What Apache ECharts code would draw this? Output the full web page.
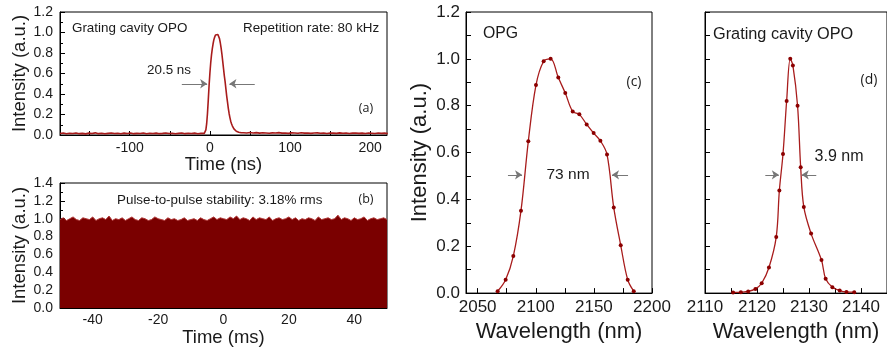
<!DOCTYPE html>
<html>
<head>
<meta charset="utf-8">
<script src="https://cdn.jsdelivr.net/npm/echarts@6/dist/echarts.min.js"></script>
<style>
html,body{margin:0;padding:0;background:#fff;}
#chart{width:887px;height:348px;}
</style>
</head>
<body>
<div id="chart"></div>
<script>
// ---------- Panel (a): single pulse ----------
const aTime = [-187,-183,-179,-175,-171,-167,-163,-159,-155,-151,-147,-143,-139,-135,-131,-127,-123,-119,-115,-111,-107,-103,-99,-95,-91,-87,-83,-79,-75,-71,-67,-63,-59,-55,-51,-47,-43,-39,-35,-31,-27,-23,-19,-15,-11,
 -7,-6,-5,-4,-3,-2,-1,0,1,2,3,4,5,6,7,8,9,10,11,12,13,14,15,16,17,18,19,20,21,22,23,24,25,26,27,28,29,30,31,32,33,34,35,36,37,38,39,40,
 42,46,50,54,58,62,66,70,74,78,82,86,90,94,98,102,106,110,114,118,122,126,130,134,138,142,146,150,154,158,162,166,170,174,178,182,186,190,194,198,202,206,210,214,218,222];
const aIntensity = [0.015,0.019,0.012,0.017,0.014,0.020,0.013,0.016,0.011,0.018,0.015,0.021,0.013,0.017,0.012,0.016,0.019,0.014,0.017,0.012,0.018,0.015,0.020,0.013,0.016,0.014,0.019,0.012,0.017,0.015,0.018,0.013,0.016,0.020,0.014,0.017,0.012,0.016,0.019,0.013,0.017,0.015,0.018,0.012,0.016,
 0.016,0.020,0.050,0.110,0.210,0.340,0.480,0.600,0.700,0.780,0.840,0.890,0.930,0.955,0.975,0.985,0.990,0.980,0.965,0.940,0.900,0.850,0.790,0.720,0.650,0.580,0.520,0.450,0.380,0.320,0.260,0.210,0.170,0.135,0.110,0.090,0.072,0.060,0.050,0.042,0.036,0.031,0.028,0.026,0.024,0.023,0.022,0.021,
 0.022,0.019,0.024,0.020,0.023,0.018,0.022,0.020,0.017,0.021,0.019,0.023,0.018,0.020,0.016,0.021,0.019,0.017,0.022,0.018,0.020,0.016,0.019,0.021,0.017,0.019,0.015,0.020,0.018,0.016,0.021,0.017,0.019,0.015,0.018,0.020,0.016,0.018,0.014,0.019,0.017,0.015,0.019,0.016,0.018,0.015];
const aXLabels = [-100, 0, 100, 200];
const aXTicks = [-150, -100, -50, 0, 50, 100, 150, 200];
const aFwhmArrows = [[-35, -3.4], [56, 24.4]]; // [tail, head] at half max
const aHalf = 0.5;

// ---------- Panel (b): pulse train ----------
const bTime = [-50,-49,-48,-47,-46,-45,-44,-43,-42,-41,-40,-39,-38,-37,-36,-35,-34,-33,-32,-31,-30,-29,-28,-27,-26,-25,-24,-23,-22,-21,-20,-19,-18,-17,-16,-15,-14,-13,-12,-11,-10,-9,-8,-7,-6,-5,-4,-3,-2,-1,0,1,2,3,4,5,6,7,8,9,10,11,12,13,14,15,16,17,18,19,20,21,22,23,24,25,26,27,28,29,30,31,32,33,34,35,36,37,38,39,40,41,42,43,44,45,46,47,48,49,50];
const bIntensity = [0.99,1.01,0.98,1.00,1.02,0.99,0.98,1.01,1.00,0.99,
 1.02,0.98,1.00,1.01,0.99,1.03,0.98,1.00,0.99,1.01,
 0.98,1.00,1.02,0.99,0.98,1.01,1.00,0.98,0.99,1.02,
 1.00,0.99,0.98,1.01,0.99,1.00,0.98,0.99,1.01,0.98,
 0.99,1.00,0.98,1.01,0.99,0.98,1.00,1.02,0.99,1.01,
 1.00,0.99,1.02,1.00,1.03,0.99,1.01,1.00,0.98,1.02,
 0.99,1.01,1.00,0.99,1.02,0.98,1.00,1.01,0.99,1.00,
 1.02,0.99,1.01,0.98,1.00,0.99,1.01,1.00,0.98,1.02,
 0.99,1.00,1.01,0.99,1.00,1.04,0.99,1.01,1.00,0.98,
 1.01,0.99,1.00,1.02,0.98,1.00,1.01,0.99,1.00,1.01,
 0.99];
const bXLabels = [-40, -20, 0, 20, 40];
const bXTicks = [-40, -30, -20, -10, 0, 10, 20, 30, 40];

// ---------- Panel (c): OPG spectrum ----------
const cWavelength = [2067.2,2074.1,2080.7,2087.3,2093.6,2100.2,2106.8,2112.8,2119.4,2125.4,2131.8,2137.5,2143.8,2149.8,2155.6,2161.3,2167.1,2173.1,2179.1,2184.3];
const cIntensity = [0.008,0.057,0.158,0.352,0.648,0.888,0.990,1.000,0.920,0.854,0.775,0.763,0.720,0.683,0.650,0.592,0.365,0.204,0.057,0.008];
const cXLabels = [2050, 2100, 2150, 2200];
const cXTicks = [2050, 2075, 2100, 2125, 2150, 2175, 2200];
const cFwhmArrows = [[2076.1, 2088.2], [2179.4, 2165.6]];
const cHalf = 0.505;

// ---------- Panel (d): grating cavity OPO spectrum ----------
const dWavelength = [2115.4,2116.9,2118.3,2119.7,2120.9,2122.3,2123.7,2124.3,2125.0,2125.7,2126.4,2126.9,2127.8,2128.4,2129.0,2130.4,2132.4,2133.2,2134.5,2135.9,2137.2,2138.7];
const dIntensity = [0.003,0.004,0.007,0.018,0.042,0.109,0.240,0.438,0.594,0.820,1.000,0.972,0.800,0.537,0.368,0.254,0.141,0.061,0.025,0.011,0.005,0.004];
const dXLabels = [2110, 2120, 2130, 2140];
const dXTicks = [2110, 2115, 2120, 2125, 2130, 2135, 2140, 2145];
const dFwhmArrows = [[2121.6, 2124.2], [2131.4, 2128.6]];
const dHalf = 0.505;

const FONT = '"Liberation Sans", Arial, Helvetica, sans-serif';
const LINE = '#a81c1c';
const DOT = '#8b0000';
const FILL = '#7a0000';
const TXT = '#1a1a1a';

const zip = (xs, ys) => xs.map((x, i) => [x, ys[i]]);
const arrows = (pairs, y) => pairs.map(p => [{coord: [p[0], y]}, {coord: [p[1], y]}]);
const plain = v => String(v);

function fwhmMark(pairs, y) {
  return {
    silent: true, animation: false,
    symbol: ['none', 'arrow'], symbolSize: 7,
    lineStyle: {color: '#777', width: 1, type: 'solid'},
    itemStyle: {color: '#222'},
    label: {show: false},
    emphasis: {disabled: true},
    data: arrows(pairs, y)
  };
}

function frameAxis(extra) {
  return Object.assign({
    type: 'value',
    axisLine: {show: true, onZero: false, lineStyle: {color: '#000', width: 1}},
    splitLine: {show: false},
  }, extra);
}

const chart = echarts.init(document.getElementById('chart'), null, {renderer: 'canvas'});

const option = {
  animation: false,
  backgroundColor: '#fff',
  grid: [
    {left: 60, top: 12, width: 327, height: 123, show: true, borderColor: '#000', borderWidth: 1, backgroundColor: 'transparent'},
    {left: 60, top: 183, width: 327, height: 125, show: true, borderColor: '#000', borderWidth: 1, backgroundColor: 'transparent'},
    {left: 466, top: 12, width: 186, height: 283, show: true, borderColor: '#000', borderWidth: 1, backgroundColor: 'transparent'},
    {left: 705, top: 12, width: 187, height: 283, show: true, borderColor: '#000', borderWidth: 1, backgroundColor: 'transparent'}
  ],
  xAxis: [
    frameAxis({gridIndex: 0, min: -187, max: 221,
      axisTick: {show: true, inside: true, length: 4, customValues: aXTicks, lineStyle: {color: '#000'}},
      axisLabel: {customValues: aXLabels, formatter: plain, margin: 6, fontSize: 14, fontFamily: FONT, color: TXT},
      name: 'Time (ns)', nameLocation: 'middle', nameGap: 19,
      nameTextStyle: {fontSize: 18.5, fontFamily: FONT, color: TXT}}),
    frameAxis({gridIndex: 1, min: -50, max: 50,
      axisTick: {show: true, inside: true, length: 4, customValues: bXTicks, lineStyle: {color: '#000'}},
      axisLabel: {customValues: bXLabels, formatter: plain, margin: 5, fontSize: 14, fontFamily: FONT, color: TXT},
      name: 'Time (ms)', nameLocation: 'middle', nameGap: 20,
      nameTextStyle: {fontSize: 18.5, fontFamily: FONT, color: TXT}}),
    frameAxis({gridIndex: 2, min: 2040, max: 2200,
      axisTick: {show: true, inside: true, length: 5, customValues: cXTicks, lineStyle: {color: '#000'}},
      axisLabel: {customValues: cXLabels, formatter: plain, margin: 6, fontSize: 17, fontFamily: FONT, color: TXT},
      name: 'Wavelength (nm)', nameLocation: 'middle', nameGap: 25,
      nameTextStyle: {fontSize: 22, fontFamily: FONT, color: TXT}}),
    frameAxis({gridIndex: 3, min: 2110, max: 2145,
      axisTick: {show: true, inside: true, length: 5, customValues: dXTicks, lineStyle: {color: '#000'}},
      axisLabel: {customValues: dXLabels, formatter: plain, margin: 6, fontSize: 17, fontFamily: FONT, color: TXT},
      name: 'Wavelength (nm)', nameLocation: 'middle', nameGap: 25,
      nameTextStyle: {fontSize: 22, fontFamily: FONT, color: TXT}})
  ],
  yAxis: [
    frameAxis({gridIndex: 0, min: 0, max: 1.2, interval: 0.2,
      axisTick: {show: true, inside: true, length: 5, lineStyle: {color: '#000'}},
      minorTick: {show: true, splitNumber: 2, length: 3, lineStyle: {color: '#000'}},
      axisLabel: {margin: 7, fontSize: 14, fontFamily: FONT, color: TXT, formatter: v => v.toFixed(1)},
      name: 'Intensity (a.u.)', nameLocation: 'middle', nameGap: 30,
      nameTextStyle: {fontSize: 18.5, fontFamily: FONT, color: TXT}}),
    frameAxis({gridIndex: 1, min: 0, max: 1.4, interval: 0.2,
      axisTick: {show: true, inside: true, length: 5, lineStyle: {color: '#000'}},
      minorTick: {show: true, splitNumber: 2, length: 3, lineStyle: {color: '#000'}},
      axisLabel: {margin: 7, fontSize: 14, fontFamily: FONT, color: TXT, formatter: v => v.toFixed(1)},
      name: 'Intensity (a.u.)', nameLocation: 'middle', nameGap: 30,
      nameTextStyle: {fontSize: 18.5, fontFamily: FONT, color: TXT}}),
    frameAxis({gridIndex: 2, min: 0, max: 1.2, interval: 0.2,
      axisTick: {show: true, inside: true, length: 5, lineStyle: {color: '#000'}},
      minorTick: {show: true, splitNumber: 2, length: 5, lineStyle: {color: '#000'}},
      axisLabel: {margin: 6, fontSize: 17, fontFamily: FONT, color: TXT, formatter: v => v.toFixed(1)},
      name: 'Intensity (a.u.)', nameLocation: 'middle', nameGap: 35,
      nameTextStyle: {fontSize: 22, fontFamily: FONT, color: TXT}}),
    frameAxis({gridIndex: 3, min: 0, max: 1.2, interval: 0.2,
      axisTick: {show: true, inside: true, length: 5, lineStyle: {color: '#000'}},
      minorTick: {show: true, splitNumber: 2, length: 5, lineStyle: {color: '#000'}},
      axisLabel: {show: false}})
  ],
  series: [
    {type: 'line', xAxisIndex: 0, yAxisIndex: 0, data: zip(aTime, aIntensity),
      showSymbol: false, symbol: 'none', lineStyle: {color: LINE, width: 1.6}, z: 3,
      markLine: fwhmMark(aFwhmArrows, aHalf)},
    {type: 'line', xAxisIndex: 1, yAxisIndex: 1, data: zip(bTime, bIntensity),
      showSymbol: false, symbol: 'none', lineStyle: {color: '#b03535', width: 1},
      areaStyle: {color: FILL, opacity: 1}, z: 1},
    {type: 'line', xAxisIndex: 2, yAxisIndex: 2, data: zip(cWavelength, cIntensity),
      smooth: 0.35, symbol: 'circle', symbolSize: 4, showSymbol: true,
      lineStyle: {color: LINE, width: 1.3}, itemStyle: {color: DOT},
      markLine: fwhmMark(cFwhmArrows, cHalf)},
    {type: 'line', xAxisIndex: 3, yAxisIndex: 3, data: zip(dWavelength, dIntensity),
      smooth: 0.35, symbol: 'circle', symbolSize: 4, showSymbol: true,
      lineStyle: {color: LINE, width: 1.3}, itemStyle: {color: DOT},
      markLine: fwhmMark(dFwhmArrows, dHalf)}
  ],
  graphic: [
    {type: 'text', x: 72, y: 28, style: {text: 'Grating cavity OPO', fontSize: 13.4, fontFamily: FONT, fill: TXT, align: 'left', verticalAlign: 'middle'}},
    {type: 'text', x: 243, y: 28, style: {text: 'Repetition rate: 80 kHz', fontSize: 13.4, fontFamily: FONT, fill: TXT, align: 'left', verticalAlign: 'middle'}},
    {type: 'text', x: 169, y: 70, style: {text: '20.5 ns', fontSize: 13.4, fontFamily: FONT, fill: TXT, align: 'center', verticalAlign: 'middle'}},
    {type: 'text', x: 366, y: 108, style: {text: '(a)', fontSize: 12.5, fontFamily: '"Open Sans", sans-serif', fill: TXT, align: 'center', verticalAlign: 'middle'}},
    {type: 'text', x: 117, y: 200, style: {text: 'Pulse-to-pulse stability: 3.18% rms', fontSize: 13.4, fontFamily: FONT, fill: TXT, align: 'left', verticalAlign: 'middle'}},
    {type: 'text', x: 366, y: 199, style: {text: '(b)', fontSize: 12.5, fontFamily: '"Open Sans", sans-serif', fill: TXT, align: 'center', verticalAlign: 'middle'}},
    {type: 'text', x: 483, y: 34, style: {text: 'OPG', fontSize: 15.8, fontFamily: FONT, fill: TXT, align: 'left', verticalAlign: 'middle'}},
    {type: 'text', x: 634, y: 82, style: {text: '(c)', fontSize: 14, fontFamily: '"Open Sans", sans-serif', fill: TXT, align: 'center', verticalAlign: 'middle'}},
    {type: 'text', x: 568, y: 175, style: {text: '73 nm', fontSize: 15.5, fontFamily: FONT, fill: TXT, align: 'center', verticalAlign: 'middle'}},
    {type: 'text', x: 713, y: 35, style: {text: 'Grating cavity OPO', fontSize: 16.3, fontFamily: FONT, fill: TXT, align: 'left', verticalAlign: 'middle'}},
    {type: 'text', x: 839, y: 157, style: {text: '3.9 nm', fontSize: 16, fontFamily: FONT, fill: TXT, align: 'center', verticalAlign: 'middle'}},
    {type: 'text', x: 869, y: 80, style: {text: '(d)', fontSize: 14, fontFamily: '"Open Sans", sans-serif', fill: TXT, align: 'center', verticalAlign: 'middle'}}
  ]
};

chart.setOption(option);
</script>
</body>
</html>
